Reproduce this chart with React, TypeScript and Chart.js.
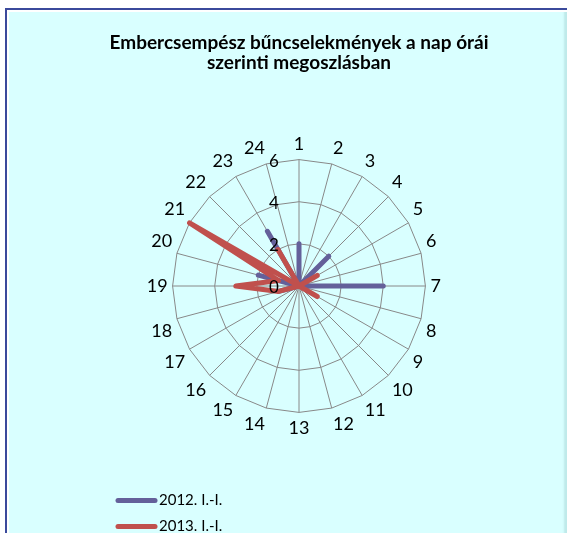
import React, { useEffect, useRef } from "react";
import { Chart, registerables } from "chart.js";

Chart.register(...registerables);

const TITLE_LINES = ["Embercsempész bűncselekmények a nap órái", "szerinti megoszlásban"];
const HOURS = ["1","2","3","4","5","6","7","8","9","10","11","12","13","14","15","16","17","18","19","20","21","22","23","24"];
const SERIES_2012_LABEL = "2012. I.-I.";
const SERIES_2013_LABEL = "2013. I.-I.";
const SERIES_2012 = [2,0,0,2,0,0,4,0,0,0,0,0,0,0,0,0,0,1,0,2,0,0,3,0];
const SERIES_2013 = [0,0,0,0,1,0,0,0,1,0,0,0,0,0,0,0,0,1,3,1,6,0,2,0];
const TICK_VALUES = [0, 2, 4, 6];

const COLOR_2012 = "#64609a";
const COLOR_2013 = "#c0504d";
const FONT = "Lato, 'Open Sans', sans-serif";

const extrasPlugin = {
  id: "extras",
  afterDraw(chart: any) {
    const ctx = chart.ctx;
    const r = chart.scales.r;
    ctx.save();
    ctx.font = `17px ${FONT}`;
    ctx.fillStyle = "#000";
    ctx.textAlign = "center";
    ctx.textBaseline = "middle";
    TICK_VALUES.forEach((v) => {
      const d = r.getDistanceFromCenterForValue(v);
      ctx.fillText(String(v), r.xCenter - 25, r.yCenter - d + 1.5);
    });
    const ds = chart.data.datasets;
    ds.forEach((d: any, i: number) => {
      const y = 500.5 + i * 26;
      ctx.strokeStyle = d.borderColor;
      ctx.lineWidth = 5;
      ctx.lineCap = "round";
      ctx.beginPath();
      ctx.moveTo(118, y);
      ctx.lineTo(155, y);
      ctx.stroke();
      ctx.font = `15px ${FONT}`;
      ctx.fillStyle = "#000";
      ctx.textAlign = "left";
      ctx.textBaseline = "middle";
      ctx.fillText(d.label, 159, y);
    });
    ctx.restore();
  },
};

export default function App() {
  const ref = useRef<HTMLCanvasElement>(null);
  useEffect(() => {
    if (!ref.current) return;
    const chart = new Chart(ref.current, {
      type: "radar",
      data: {
        labels: HOURS,
        datasets: [
          {
            label: SERIES_2012_LABEL,
            data: SERIES_2012,
            borderColor: COLOR_2012,
            backgroundColor: "rgba(0,0,0,0)",
            fill: false,
            borderWidth: 5,
            borderJoinStyle: "round",
            borderCapStyle: "round",
            pointRadius: 0,
            order: 1,
          },
          {
            label: SERIES_2013_LABEL,
            data: SERIES_2013,
            borderColor: COLOR_2013,
            backgroundColor: "rgba(0,0,0,0)",
            fill: false,
            borderWidth: 5,
            borderJoinStyle: "round",
            borderCapStyle: "round",
            pointRadius: 0,
            order: 0,
          },
        ],
      },
      options: {
        responsive: false,
        animation: false,
        devicePixelRatio: 1,
        layout: { padding: { left: 29, right: 0, top: 0, bottom: 93 } },
        plugins: {
          legend: { display: false },
          tooltip: { enabled: false },
          title: {
            display: true,
            text: TITLE_LINES,
            color: "#000",
            font: { family: FONT, size: 19, weight: "bold", lineHeight: 20 / 19 },
            padding: { top: 33, bottom: 61 },
          },
        },
        scales: {
          r: {
            min: 0,
            max: 6,
            ticks: { stepSize: 2, display: false },
            grid: { color: "#888888", lineWidth: 1 },
            angleLines: { color: "#888888", lineWidth: 1 },
            pointLabels: { color: "#000", font: { family: FONT, size: 18, lineHeight: 1.2 }, padding: 5 },
          },
        },
      },
      plugins: [extrasPlugin],
    } as any);
    return () => chart.destroy();
  }, []);

  return (
    <div style={{ position: "fixed", left: 0, top: 0, width: 569, height: 533, overflow: "hidden", background: "#fff" }}>
      <div
        style={{
          position: "absolute",
          left: 5,
          top: 8,
          width: 562,
          height: 600,
          borderLeft: "2px solid #3b4a9c",
          borderTop: "2px solid #3b4a9c",
          background: "#d9ffff",
          boxShadow: "inset 2px 2px 0 #ffffff, inset -3px 0 2px #bfeaea",
          boxSizing: "border-box",
        }}
      />
      <canvas ref={ref} width={569} height={533} style={{ position: "absolute", left: 0, top: 0, width: 569, height: 533 }} />
    </div>
  );
}
